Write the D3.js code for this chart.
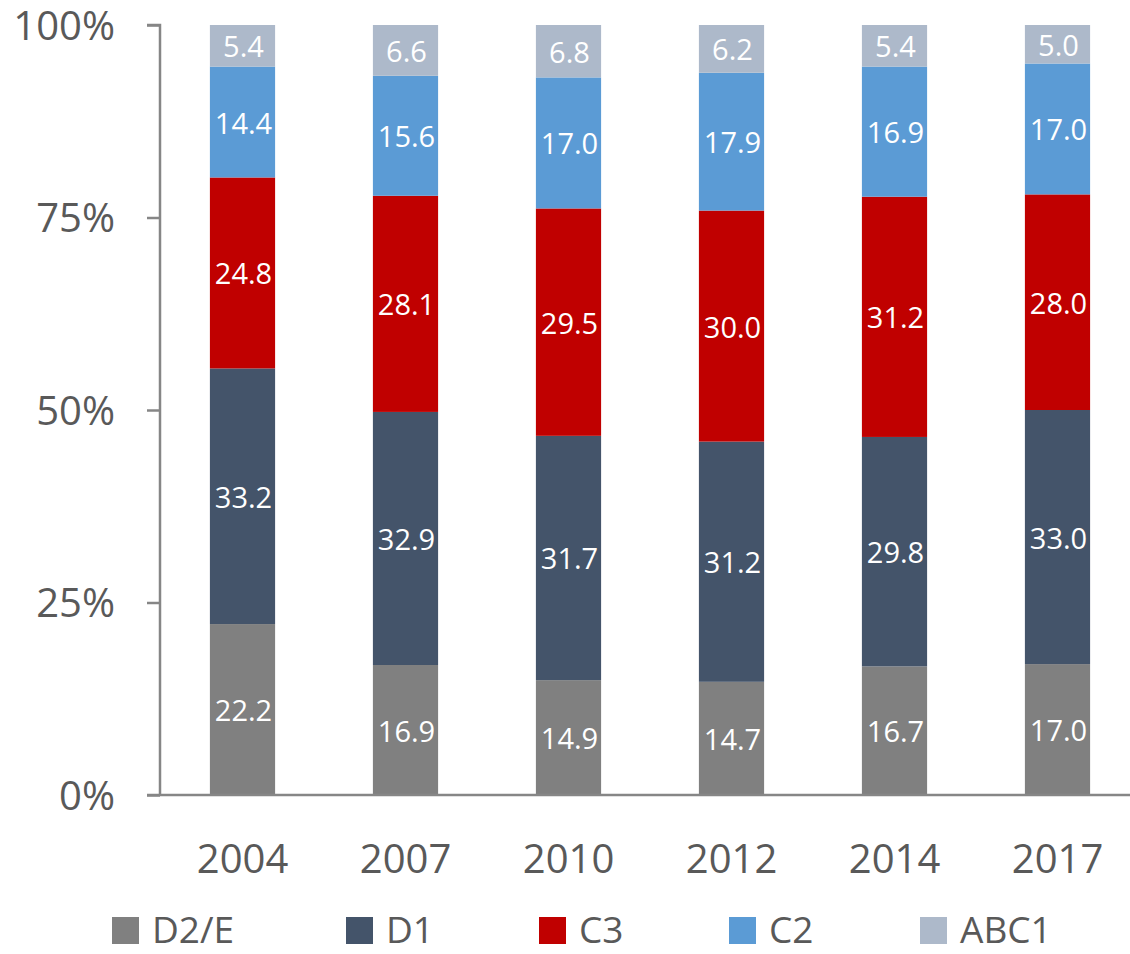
<!DOCTYPE html>
<html>
<head>
<meta charset="utf-8">
<script src="https://cdn.jsdelivr.net/npm/d3@7"></script>
<style>
  html, body { margin: 0; padding: 0; background: #fff; }
  svg { display: block; font-family: "Open Sans", sans-serif; }
</style>
</head>
<body>
<svg id="chart" width="1130" height="954"></svg>
<script>
const years = ["2004", "2007", "2010", "2012", "2014", "2017"];
const seriesNames = ["D2/E", "D1", "C3", "C2", "ABC1"];
const d2e  = [22.2, 16.9, 14.9, 14.7, 16.7, 17.0];
const d1   = [33.2, 32.9, 31.7, 31.2, 29.8, 33.0];
const c3   = [24.8, 28.1, 29.5, 30.0, 31.2, 28.0];
const c2   = [14.4, 15.6, 17.0, 17.9, 16.9, 17.0];
const abc1 = [5.4, 6.6, 6.8, 6.2, 5.4, 5.0];
const yTicks = [0, 0.25, 0.5, 0.75, 1];

const colors = ["#808080", "#44546A", "#C00000", "#5B9BD5", "#ADB9CA"];
const seriesValues = [d2e, d1, c3, c2, abc1];

const rows = years.map((y, i) => {
  const r = { year: y };
  seriesNames.forEach((s, k) => r[s] = seriesValues[k][i]);
  return r;
});

const svg = d3.select("#chart");
const x = d3.scaleBand().domain(years).range([161, 1139]).paddingInner(0.6).paddingOuter(0.3);
const y = d3.scaleLinear().domain([0, 1]).range([795, 25]);
const color = d3.scaleOrdinal().domain(seriesNames).range(colors);

const stack = d3.stack().keys(seriesNames).offset(d3.stackOffsetExpand);
const stacked = stack(rows);

// bars
const groups = svg.append("g").selectAll("g").data(stacked).join("g")
  .attr("fill", d => color(d.key));
groups.selectAll("rect").data(d => d).join("rect")
  .attr("x", d => x(d.data.year))
  .attr("width", x.bandwidth())
  .attr("y", d => y(d[1]))
  .attr("height", d => y(d[0]) - y(d[1]));

// labels
stacked.forEach(s => {
  s.forEach((d, i) => {
    svg.append("text")
      .attr("x", x(d.data.year) + x.bandwidth() / 2 + 1)
      .attr("y", (y(d[0]) + y(d[1])) / 2)
      .attr("text-anchor", "middle")
      .attr("dominant-baseline", "central")
      .attr("fill", "#fff")
      .attr("font-size", 29)
      .text(d.data[s.key].toFixed(1));
  });
});

// y axis
const yAxis = d3.axisLeft(y).tickValues(yTicks).tickFormat(d3.format(".0%"))
  .tickSize(13).tickPadding(32);
const gy = svg.append("g").attr("transform", "translate(160,0)").call(yAxis);
gy.select(".domain").attr("stroke", "#868686").attr("stroke-width", 2.5)
  .attr("d", `M-13,${y(1)}H0V${y(0)}`);
gy.selectAll(".tick line").attr("stroke", "#868686").attr("stroke-width", 2.5);
gy.selectAll(".tick text").attr("fill", "#595959").attr("font-size", 40)
  .attr("font-family", "'Open Sans', sans-serif").attr("dy", "0.35em");

// x axis
const xAxis = d3.axisBottom(x).tickSize(0).tickPadding(0);
const gx = svg.append("g").attr("transform", `translate(0,${y(0)})`).call(xAxis);
gx.select(".domain").attr("stroke", "#868686").attr("stroke-width", 2.5)
  .attr("d", "M147,0H1130");
gx.selectAll(".tick text").attr("fill", "#595959").attr("font-size", 40)
  .attr("font-family", "'Open Sans', sans-serif").attr("y", 78).attr("dy", 0);

// legend
const legendX = [112, 346, 539, 729, 920];
const lg = svg.append("g").selectAll("g").data(seriesNames).join("g")
  .attr("transform", (d, i) => `translate(${legendX[i]},917)`);
lg.append("rect").attr("width", 27).attr("height", 27).attr("fill", d => color(d));
lg.append("text").attr("x", 40).attr("y", 26).attr("fill", "#595959")
  .attr("font-size", 37).text(d => d);
</script>
</body>
</html>
